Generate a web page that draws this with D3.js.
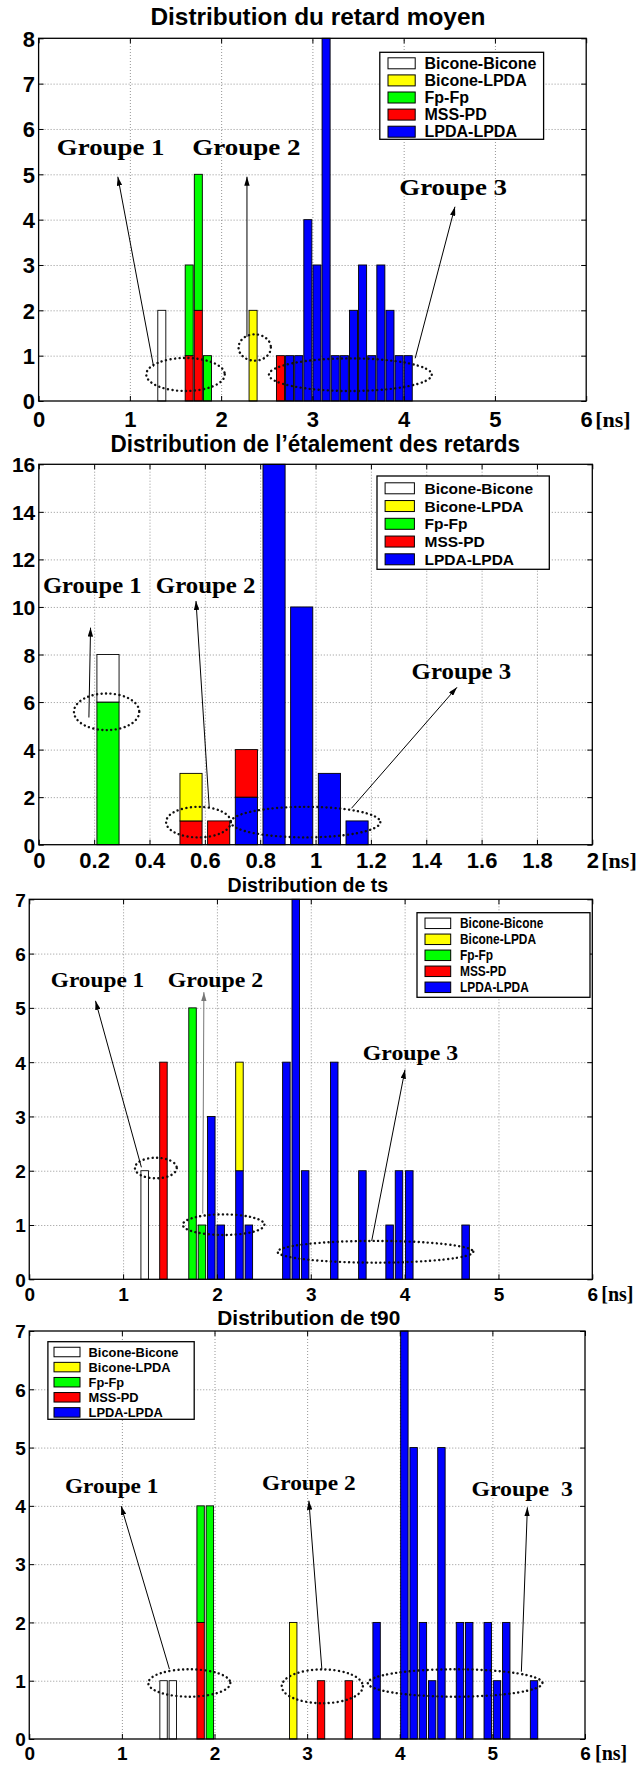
<!DOCTYPE html>
<html><head><meta charset="utf-8">
<script src="https://cdn.jsdelivr.net/npm/d3@7"></script>
<style>body{margin:0;background:#fff}svg{display:block}</style>
</head><body><svg id="c" width="637" height="1767"></svg>
<script>
// ================= DATA =================
const seriesKeys   = ["bicBic","bicLpda","fp","mss","lpda"];
const seriesNames  = ["Bicone-Bicone","Bicone-LPDA","Fp-Fp","MSS-PD","LPDA-LPDA"];
const stackOrder   = ["lpda","mss","fp","bicLpda","bicBic"];
const titles = ["Distribution du retard moyen","Distribution de l\u2019étalement des retards","Distribution de ts","Distribution de t90"];
const groupLabels  = ["Groupe 1","Groupe 2","Groupe 3"];
const groupLabels4 = ["Groupe 1","Groupe 2","Groupe  3"];
const unitLabel = "[ns]";

const xTicksNs  = [0,1,2,3,4,5,6];
const xTicksEt  = [0,0.2,0.4,0.6,0.8,1,1.2,1.4,1.6,1.8,2];
const yTicks8   = [0,1,2,3,4,5,6,7,8];
const yTicks16  = [0,2,4,6,8,10,12,14,16];
const yTicks7   = [0,1,2,3,4,5,6,7];

// Panel 1 : retard moyen
const bins1    = [1.35,1.65,1.75,1.85,2.35,2.65,2.75,2.85,2.95,3.05,3.15,3.25,3.35,3.45,3.55,3.65,3.75,3.85,3.95,4.05];
const bicBic1  = [2,0,0,0,0,0,0,0,0,0,0,0,0,0,0,0,0,0,0,0];
const bicLpda1 = [0,0,0,0,2,0,0,0,0,0,0,0,0,0,0,0,0,0,0,0];
const fp1      = [0,2,3,1,0,0,0,0,0,0,0,0,0,0,0,0,0,0,0,0];
const mss1     = [0,1,2,0,0,1,0,0,0,0,0,0,0,0,0,0,0,0,0,0];
const lpda1    = [0,0,0,0,0,0,1,1,4,3,8,1,1,2,3,1,3,2,1,1];

// Panel 2 : étalement des retards
const bins2    = [0.25,0.55,0.65,0.75,0.85,0.95,1.05,1.15];
const bicBic2  = [2,0,0,0,0,0,0,0];
const bicLpda2 = [0,2,0,0,0,0,0,0];
const fp2      = [6,0,0,0,0,0,0,0];
const mss2     = [0,1,1,2,0,0,0,0];
const lpda2    = [0,0,0,2,16,10,3,1];

// Panel 3 : ts
const bins3    = [1.23,1.43,1.74,1.84,1.94,2.04,2.24,2.34,2.74,2.84,2.94,3.25,3.55,3.84,3.94,4.05,4.65];
const bicBic3  = [2,0,0,0,0,0,0,0,0,0,0,0,0,0,0,0,0];
const bicLpda3 = [0,0,0,0,0,0,2,0,0,0,0,0,0,0,0,0,0];
const fp3      = [0,0,5,1,0,0,0,0,0,0,0,0,0,0,0,0,0];
const mss3     = [0,4,0,0,0,0,0,0,0,0,0,0,0,0,0,0,0];
const lpda3    = [0,0,0,0,3,1,2,1,4,7,2,4,2,1,2,2,1];

// Panel 4 : t90
const bins4    = [1.45,1.55,1.85,1.95,2.85,3.15,3.45,3.75,4.05,4.15,4.25,4.35,4.45,4.65,4.75,4.95,5.05,5.15,5.45];
const bicBic4  = [1,1,0,0,0,0,0,0,0,0,0,0,0,0,0,0,0,0,0];
const bicLpda4 = [0,0,0,0,2,0,0,0,0,0,0,0,0,0,0,0,0,0,0];
const fp4      = [0,0,2,4,0,0,0,0,0,0,0,0,0,0,0,0,0,0,0];
const mss4     = [0,0,2,0,0,1,1,0,0,0,0,0,0,0,0,0,0,0,0];
const lpda4    = [0,0,0,0,0,0,0,2,7,5,2,1,5,2,2,2,1,2,1];

// ================= STYLE / LAYOUT =================
const colors = {bicBic:"#ffffff", bicLpda:"#ffff00", fp:"#00ff00", mss:"#ff0000", lpda:"#0000ff"};
const SANS = "'Liberation Sans', Arial, sans-serif";
const SERIF = "'Liberation Serif', 'Times New Roman', serif";

const panels = [
 { data:{bins:bins1,bicBic:bicBic1,bicLpda:bicLpda1,fp:fp1,mss:mss1,lpda:lpda1},
   xTicks:xTicksNs, yTicks:yTicks8, xMax:6, yMax:8, barW:0.088,
   left:38.6, right:586.2, top:38.3, bottom:401,
   title:{x:317.9, y:25, w:335, fs:24},
   xLab:{y:426.7, fs:22}, yLab:{fs:22}, ns:{off:9, fs:22},
   legend:{x0:379.8, x1:543.6, y0:52.3, y1:139.3, sx:388, sw:27.2, sh:11, tx:424.5, r0:63.3, step:17.1, fs:16, sq:1},
   groups:{labels:groupLabels, fs:24, w:[107.6,108.4,107.7], pos:[[0.2,5.43],[1.683,5.43],[3.952,4.54]]},
   ellipses:[[1.61,0.585,0.43,0.364],[2.368,1.18,0.177,0.29],[3.416,0.58,0.892,0.36]],
   arrows:[[1.26,0.757,0.868,4.947,"#000"],[2.283,1.414,2.283,4.947,"#000"],[4.126,0.942,4.562,4.285,"#000"]] },
 { data:{bins:bins2,bicBic:bicBic2,bicLpda:bicLpda2,fp:fp2,mss:mss2,lpda:lpda2},
   xTicks:xTicksEt, yTicks:yTicks16, xMax:2, yMax:16, barW:0.08,
   left:38.8, right:592.3, top:464.3, bottom:844.7,
   title:{x:315.3, y:451.7, w:409.5, fs:24},
   xLab:{y:868, fs:22}, yLab:{fs:21}, ns:{off:9, fs:22},
   legend:{x0:377, x1:549.3, y0:476, y1:569.3, sx:385.1, sw:29.3, sh:11, tx:424.5, r0:488.3, step:17.75, fs:15.5, sq:1},
   groups:{labels:groupLabels, fs:24, w:[98.7,99.5,99.6], pos:[[0.015,10.59],[0.423,10.59],[1.347,6.99]]},
   ellipses:[[0.245,5.59,0.118,0.77],[0.577,0.95,0.117,0.643],[0.964,0.95,0.27,0.643]],
   arrows:[[0.181,5.35,0.187,9.13,"#000"],[0.616,1.533,0.568,10.25,"#000"],[1.13,1.533,1.511,6.62,"#000"]] },
 { data:{bins:bins3,bicBic:bicBic3,bicLpda:bicLpda3,fp:fp3,mss:mss3,lpda:lpda3},
   xTicks:xTicksNs, yTicks:yTicks7, xMax:6, yMax:7, barW:0.08,
   left:29.25, right:592.3, top:899.3, bottom:1279.3,
   title:{x:307.8, y:891.7, w:160.5, fs:20},
   xLab:{y:1301, fs:19}, yLab:{fs:19}, ns:{off:9, fs:20},
   legend:{x0:417, x1:590, y0:912.7, y1:997.3, sx:425, sw:25.7, sh:10.5, tx:460, r0:923.3, step:16, fs:14, sq:0.85},
   groups:{labels:groupLabels, fs:22, w:[93.4,95.5,95.5], pos:[[0.23,5.39],[1.476,5.39],[3.554,4.04]]},
   ellipses:[[1.349,2.05,0.223,0.19],[2.071,1.006,0.435,0.19],[3.689,0.507,1.043,0.2]],
   arrows:[[1.195,2.063,0.706,5.13,"#000"],[1.849,1.21,1.861,5.29,"#777"],[3.649,0.707,4.004,3.86,"#000"]] },
 { data:{bins:bins4,bicBic:bicBic4,bicLpda:bicLpda4,fp:fp4,mss:mss4,lpda:lpda4},
   xTicks:xTicksNs, yTicks:yTicks7, xMax:6, yMax:7, barW:0.08,
   left:29.25, right:585, top:1331, bottom:1739,
   title:{x:308.8, y:1325, w:183, fs:20},
   xLab:{y:1760, fs:19}, yLab:{fs:19}, ns:{off:10, fs:20},
   legend:{x0:47.9, x1:194.2, y0:1341.7, y1:1419.3, sx:54, sw:26, sh:9.5, tx:88.6, r0:1352, step:15.1, fs:13.5, sq:0.95},
   groups:{labels:groupLabels4, fs:22, w:[93.4,93.5,101.5], pos:[[0.386,4.215],[2.514,4.27],[4.774,4.17]]},
   ellipses:[[1.728,0.961,0.443,0.235],[3.164,0.904,0.438,0.29],[4.598,0.961,0.943,0.235]],
   arrows:[[1.513,1.2,0.992,3.997,"#000"],[3.159,1.2,3.019,4.088,"#000"],[5.313,1.155,5.378,3.975,"#000"]] }
];

// ================= DRAW =================
const svg = d3.select("#c");
svg.append("rect").attr("width",637).attr("height",1767).attr("fill","#fff");
const defs = svg.append("defs");
["#000","#777"].forEach((c,i)=>{
  defs.append("marker").attr("id","ah"+i).attr("viewBox","0 0 10 6")
    .attr("refX",10).attr("refY",3).attr("markerWidth",9).attr("markerHeight",5.4)
    .attr("markerUnits","userSpaceOnUse").attr("orient","auto")
    .append("path").attr("d","M0,0 L10,3 L0,6 Z").attr("fill",c);
});
const fmt = v => String(+v.toFixed(1));

panels.forEach((p, pi) => {
  const g = svg.append("g");
  const x = d3.scaleLinear().domain([0,p.xMax]).range([p.left,p.right]);
  const y = d3.scaleLinear().domain([0,p.yMax]).range([p.bottom,p.top]);
  const H = p.bottom - p.top, W = p.right - p.left;

  // grid
  const gx = g.append("g").attr("transform",`translate(0,${p.bottom})`)
    .call(d3.axisBottom(x).tickValues(p.xTicks.slice(1,-1)).tickSize(-H).tickFormat(""));
  const gy = g.append("g").attr("transform",`translate(${p.left},0)`)
    .call(d3.axisLeft(y).tickValues(p.yTicks.slice(1,-1)).tickSize(-W).tickFormat(""));
  [gx,gy].forEach(a=>{a.select(".domain").remove();
    a.selectAll("line").attr("stroke","#8a8a8a").attr("stroke-width",0.9).attr("stroke-dasharray","1,2");});

  // bars (stacked)
  const rows = p.data.bins.map((b,i)=>{const r={bin:b}; seriesKeys.forEach(k=>r[k]=p.data[k][i]); return r;});
  const stacked = d3.stack().keys(stackOrder)(rows);
  stacked.forEach(layer=>{
    g.append("g").selectAll("rect").data(layer.filter(s=>s[1]-s[0]>0)).join("rect")
      .attr("x", s=>x(s.data.bin - p.barW/2))
      .attr("width", s=>x(s.data.bin + p.barW/2) - x(s.data.bin - p.barW/2))
      .attr("y", s=>y(s[1]))
      .attr("height", s=>y(s[0]) - y(s[1]))
      .attr("fill", colors[layer.key]).attr("stroke","#000").attr("stroke-width",0.9);
  });

  // inward ticks on all sides
  const tk = 5;
  [[d3.axisBottom(x).tickValues(p.xTicks),`translate(0,${p.bottom})`],
   [d3.axisTop(x).tickValues(p.xTicks),`translate(0,${p.top})`],
   [d3.axisLeft(y).tickValues(p.yTicks),`translate(${p.left},0)`],
   [d3.axisRight(y).tickValues(p.yTicks),`translate(${p.right},0)`]].forEach(([ax,tr])=>{
     const a = g.append("g").attr("transform",tr).call(ax.tickSize(-tk).tickFormat(""));
     a.select(".domain").remove();
     a.selectAll("line").attr("stroke","#000").attr("stroke-width",1);
  });
  // frame
  g.append("rect").attr("x",p.left).attr("y",p.top).attr("width",W).attr("height",H)
    .attr("fill","none").attr("stroke","#000").attr("stroke-width",1.3);

  // tick labels
  const xl = g.append("g").attr("transform",`translate(0,${p.bottom})`)
    .call(d3.axisBottom(x).tickValues(p.xTicks).tickSize(0).tickFormat(fmt));
  xl.select(".domain").remove();
  xl.selectAll("text").attr("y", p.xLab.y - p.bottom).attr("dy",null)
    .attr("font-family",SANS).attr("font-weight","bold").attr("font-size",p.xLab.fs).attr("fill","#000");
  const yl = g.append("g").attr("transform",`translate(${p.left},0)`)
    .call(d3.axisLeft(y).tickValues(p.yTicks).tickSize(0).tickPadding(3.5).tickFormat(fmt));
  yl.select(".domain").remove();
  yl.selectAll("text").attr("dy","0.36em")
    .attr("font-family",SANS).attr("font-weight","bold").attr("font-size",p.yLab.fs).attr("fill","#000");
  g.append("text").attr("x", p.right + p.ns.off).attr("y", p.xLab.y)
    .attr("font-family",SERIF).attr("font-weight","bold").attr("font-size",p.ns.fs).text(unitLabel);

  // title
  g.append("text").attr("x",p.title.x).attr("y",p.title.y).attr("text-anchor","middle")
    .attr("font-family",SANS).attr("font-weight","bold").attr("font-size",p.title.fs)
    .attr("textLength",p.title.w).attr("lengthAdjust","spacingAndGlyphs").text(titles[pi]);

  // ellipses
  p.ellipses.forEach(([cx,cy,rx,ry])=>{
    g.append("ellipse").attr("cx",x(cx)).attr("cy",y(cy))
      .attr("rx",x(rx)-x(0)).attr("ry",y(0)-y(ry))
      .attr("fill","none").attr("stroke","#111").attr("stroke-width",2.4)
      .attr("stroke-dasharray","0.1,4.4").attr("stroke-linecap","round");
  });
  // arrows
  p.arrows.forEach(([x1,y1,x2,y2,c])=>{
    g.append("line").attr("x1",x(x1)).attr("y1",y(y1)).attr("x2",x(x2)).attr("y2",y(y2))
      .attr("stroke",c).attr("stroke-width",1)
      .attr("marker-end",`url(#ah${c==="#000"?0:1})`);
  });
  // group labels
  p.groups.labels.forEach((lab,i)=>{
    g.append("text").attr("x",x(p.groups.pos[i][0])).attr("y",y(p.groups.pos[i][1]))
      .attr("xml:space","preserve").style("white-space","pre")
      .attr("font-family",SERIF).attr("font-weight","bold").attr("font-size",p.groups.fs)
      .attr("textLength",p.groups.w[i]).attr("lengthAdjust","spacingAndGlyphs").text(lab);
  });

  // legend
  const L = p.legend;
  const lg = g.append("g");
  lg.append("rect").attr("x",L.x0).attr("y",L.y0).attr("width",L.x1-L.x0).attr("height",L.y1-L.y0)
    .attr("fill","#fff").attr("stroke","#000").attr("stroke-width",1.3);
  seriesKeys.forEach((k,i)=>{
    const cy = L.r0 + i*L.step;
    lg.append("rect").attr("x",L.sx).attr("y",cy-L.sh/2).attr("width",L.sw).attr("height",L.sh)
      .attr("fill",colors[k]).attr("stroke","#000").attr("stroke-width",1);
    const t = lg.append("text").attr("x",L.tx).attr("y",cy).attr("dy","0.36em")
      .attr("font-family",SANS).attr("font-weight","bold").attr("font-size",L.fs).text(seriesNames[i]);
    if (L.sq !== 1) {
      const w = t.node().getComputedTextLength();
      t.attr("textLength", w*L.sq).attr("lengthAdjust","spacingAndGlyphs");
    }
  });
});
</script></body></html>
